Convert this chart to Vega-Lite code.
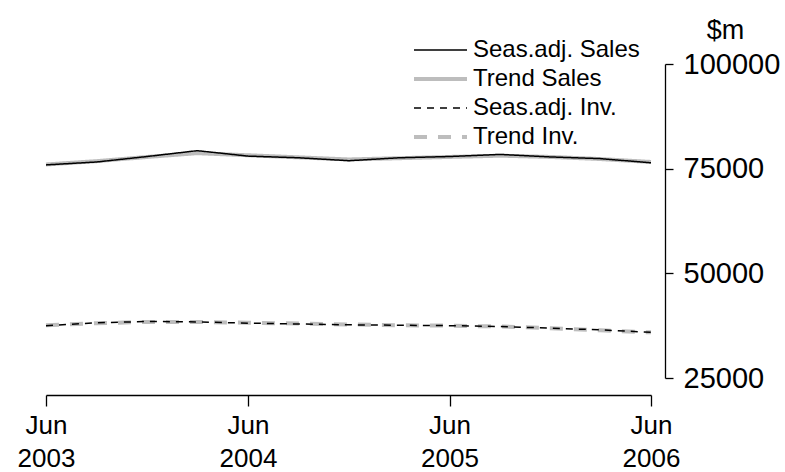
{
  "$schema": "https://vega.github.io/schema/vega-lite/v6.json",
  "width": 605,
  "height": 314,
  "autosize": {"type": "none"},
  "padding": {"left": 46, "top": 64, "right": 134, "bottom": 94},
  "background": "white",
  "config": {
    "view": {"stroke": null},
    "font": "Liberation Sans",
    "axis": {"labelColor": "black", "domainColor": "black", "tickColor": "black", "grid": false, "labelFontSize": 27, "labelFont": "Liberation Sans", "domainWidth": 1.3, "tickWidth": 1.3},
    "legend": {"labelFont": "Liberation Sans"}
  },
  "data": {"values": [
    {"date": "2003-06-01", "series": "Trend Sales", "value": 76000},
    {"date": "2003-09-01", "series": "Trend Sales", "value": 76800},
    {"date": "2003-12-01", "series": "Trend Sales", "value": 77800},
    {"date": "2004-03-01", "series": "Trend Sales", "value": 78700},
    {"date": "2004-06-01", "series": "Trend Sales", "value": 78200},
    {"date": "2004-09-01", "series": "Trend Sales", "value": 77700},
    {"date": "2004-12-01", "series": "Trend Sales", "value": 77200},
    {"date": "2005-03-01", "series": "Trend Sales", "value": 77500},
    {"date": "2005-06-01", "series": "Trend Sales", "value": 77800},
    {"date": "2005-09-01", "series": "Trend Sales", "value": 78100},
    {"date": "2005-12-01", "series": "Trend Sales", "value": 77800},
    {"date": "2006-03-01", "series": "Trend Sales", "value": 77300},
    {"date": "2006-06-01", "series": "Trend Sales", "value": 76600},
    {"date": "2003-06-01", "series": "Trend Inv.", "value": 37600},
    {"date": "2003-09-01", "series": "Trend Inv.", "value": 38100},
    {"date": "2003-12-01", "series": "Trend Inv.", "value": 38400},
    {"date": "2004-03-01", "series": "Trend Inv.", "value": 38400},
    {"date": "2004-06-01", "series": "Trend Inv.", "value": 38200},
    {"date": "2004-09-01", "series": "Trend Inv.", "value": 38000},
    {"date": "2004-12-01", "series": "Trend Inv.", "value": 37800},
    {"date": "2005-03-01", "series": "Trend Inv.", "value": 37600},
    {"date": "2005-06-01", "series": "Trend Inv.", "value": 37500},
    {"date": "2005-09-01", "series": "Trend Inv.", "value": 37300},
    {"date": "2005-12-01", "series": "Trend Inv.", "value": 36900},
    {"date": "2006-03-01", "series": "Trend Inv.", "value": 36400},
    {"date": "2006-06-01", "series": "Trend Inv.", "value": 35900},
    {"date": "2003-06-01", "series": "Seas.adj. Sales", "value": 75900},
    {"date": "2003-09-01", "series": "Seas.adj. Sales", "value": 76600},
    {"date": "2003-12-01", "series": "Seas.adj. Sales", "value": 77900},
    {"date": "2004-03-01", "series": "Seas.adj. Sales", "value": 79300},
    {"date": "2004-06-01", "series": "Seas.adj. Sales", "value": 78000},
    {"date": "2004-09-01", "series": "Seas.adj. Sales", "value": 77600},
    {"date": "2004-12-01", "series": "Seas.adj. Sales", "value": 76900},
    {"date": "2005-03-01", "series": "Seas.adj. Sales", "value": 77600},
    {"date": "2005-06-01", "series": "Seas.adj. Sales", "value": 77900},
    {"date": "2005-09-01", "series": "Seas.adj. Sales", "value": 78400},
    {"date": "2005-12-01", "series": "Seas.adj. Sales", "value": 77800},
    {"date": "2006-03-01", "series": "Seas.adj. Sales", "value": 77400},
    {"date": "2006-06-01", "series": "Seas.adj. Sales", "value": 76400},
    {"date": "2003-06-01", "series": "Seas.adj. Inv.", "value": 37500},
    {"date": "2003-09-01", "series": "Seas.adj. Inv.", "value": 38200},
    {"date": "2003-12-01", "series": "Seas.adj. Inv.", "value": 38500},
    {"date": "2004-03-01", "series": "Seas.adj. Inv.", "value": 38400},
    {"date": "2004-06-01", "series": "Seas.adj. Inv.", "value": 38100},
    {"date": "2004-09-01", "series": "Seas.adj. Inv.", "value": 37900},
    {"date": "2004-12-01", "series": "Seas.adj. Inv.", "value": 37700},
    {"date": "2005-03-01", "series": "Seas.adj. Inv.", "value": 37600},
    {"date": "2005-06-01", "series": "Seas.adj. Inv.", "value": 37500},
    {"date": "2005-09-01", "series": "Seas.adj. Inv.", "value": 37300},
    {"date": "2005-12-01", "series": "Seas.adj. Inv.", "value": 36900},
    {"date": "2006-03-01", "series": "Seas.adj. Inv.", "value": 36500},
    {"date": "2006-06-01", "series": "Seas.adj. Inv.", "value": 35900}
  ]},
  "mark": {"type": "line", "strokeCap": "butt"},
  "encoding": {
    "x": {
      "field": "date", "type": "temporal",
      "scale": {"type": "utc", "domain": [{"year": 2003, "month": 6, "date": 1, "utc": true}, {"year": 2006, "month": 6, "date": 1, "utc": true}]},
      "axis": {
        "title": null,
        "offset": 17,
        "values": [{"year": 2003, "month": 6, "date": 1, "utc": true}, {"year": 2004, "month": 6, "date": 1, "utc": true}, {"year": 2005, "month": 6, "date": 1, "utc": true}, {"year": 2006, "month": 6, "date": 1, "utc": true}],
        "labelExpr": "[utcFormat(datum.value, '%b'), utcFormat(datum.value, '%Y')]",
        "labelFontSize": 26,
        "labelLineHeight": 33,
        "labelPadding": 6,
        "tickSize": 11,
        "labelFlush": false,
        "labelOverlap": false
      }
    },
    "y": {
      "field": "value", "type": "quantitative",
      "scale": {"domain": [25000, 100000], "nice": false, "zero": false},
      "axis": {
        "orient": "right",
        "offset": 14,
        "values": [25000, 50000, 75000, 100000],
        "format": "d",
        "tickSize": 8,
        "labelPadding": 10,
        "labelFontSize": 29,
        "title": "$m",
        "titleAngle": 0,
        "titleFontSize": 27,
        "titleFontWeight": "normal",
        "titleX": 60,
        "titleY": -26,
        "titleAlign": "center",
        "titleBaseline": "alphabetic",
        "titleFont": "Liberation Sans"
      }
    },
    "color": {
      "field": "series", "type": "nominal",
      "scale": {"domain": ["Seas.adj. Sales", "Trend Sales", "Seas.adj. Inv.", "Trend Inv."], "range": ["black", "#bdbdbd", "black", "#bdbdbd"]},
      "legend": {
        "title": null,
        "orient": "none",
        "legendX": 402,
        "legendY": -26,
        "symbolType": "M-4.6,0H0.7",
        "symbolSize": 400,
        "symbolFillColor": "transparent",
        "labelFontSize": 24,
        "labelOffset": 1,
        "rowPadding": 5,
        "labelLimit": 300
      }
    },
    "strokeWidth": {
      "field": "series", "type": "nominal",
      "scale": {"type": "ordinal", "domain": ["Seas.adj. Sales", "Trend Sales", "Seas.adj. Inv.", "Trend Inv."], "range": [1.5, 4, 1.5, 4]}
    },
    "strokeDash": {
      "field": "series", "type": "nominal",
      "scale": {"domain": ["Seas.adj. Sales", "Trend Sales", "Seas.adj. Inv.", "Trend Inv."], "range": [[1, 0], [1, 0], [7, 6], [13, 11]]}
    }
  }
}
